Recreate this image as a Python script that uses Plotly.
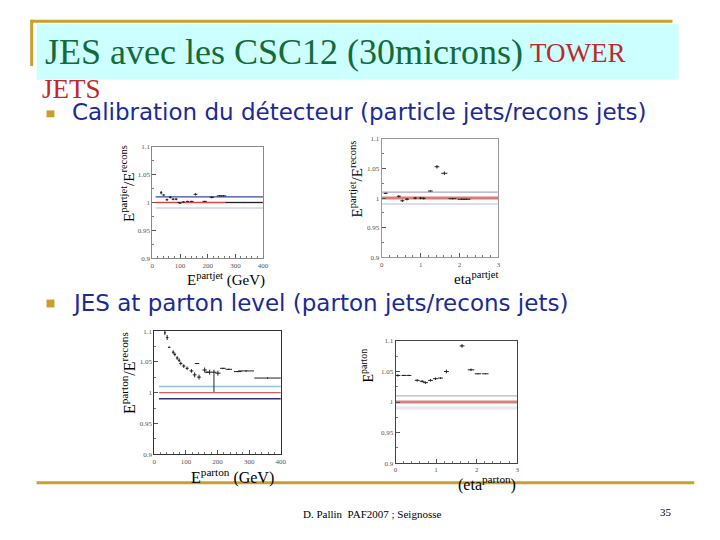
import plotly.graph_objects as go

W, H = 720, 540

# ---------------- data ----------------
# Plot 1: particle jets / recons jets vs E (GeV)
e1 = [32, 41, 53, 65, 75, 86, 95, 100, 112, 127, 142, 156, 189, 215, 243, 257, 331]
r1 = [1.0176, 1.0135, 1.005, 1.0094, 1.006, 1.006, 1.0, 0.999, 1.001, 1.002, 1.002, 1.0147, 1.002, 1.0094, 1.012, 1.012, 1.0]
e1err = [4, 5, 5, 5, 5, 5, 5, 5, 6, 6, 7, 7, 8, 8, 10, 10, 67]
r1err = [0.003, 0.001, 0.002, 0.002, 0.002, 0.002, 0.001, 0.001, 0.001, 0.001, 0.001, 0.002, 0.001, 0.002, 0.001, 0.001, 0.001]

# Plot 2: particle jets / recons jets vs eta
eta2 = [0.1, 0.44, 0.53, 0.65, 0.86, 1.0, 1.08, 1.25, 1.42, 1.61, 1.82, 2.05, 2.18]
r2 = [1.008, 1.003, 0.9955, 0.998, 1.0, 1.0, 0.9995, 1.012, 1.053, 1.042, 0.999, 0.998, 0.998]
eta2err = [0.05, 0.05, 0.05, 0.05, 0.05, 0.05, 0.05, 0.06, 0.06, 0.08, 0.1, 0.1, 0.1]
r2err = [0.001, 0.002, 0.002, 0.002, 0.002, 0.002, 0.002, 0.0005, 0.003, 0.003, 0.001, 0.001, 0.001]

# Plot 3: parton jets / recons jets vs E (GeV)
e3 = [33.5, 40.8, 47.1, 59.7, 64.9, 72.3, 78.5, 83.8, 93.2, 103.7, 117.3, 135.1, 127.7, 141.4, 159.2, 166.5, 174.9, 188.5, 201, 216.8, 235.6, 263.9, 290, 358]
r3 = [1.0974, 1.0895, 1.0737, 1.0658, 1.0621, 1.0563, 1.0526, 1.0474, 1.0432, 1.0395, 1.0353, 1.0474, 1.0289, 1.0253, 1.0368, 1.0332, 1.0332, 1.0332, 1.0316, 1.0395, 1.0379, 1.0342, 1.0353, 1.0237]
e3err = [3, 4, 4, 4, 4, 4, 4, 5, 5, 5, 6, 7, 6, 6, 7, 7, 7, 8, 8, 9, 10, 12, 25, 42]
r3up = [0.004, 0.004, 0.001, 0.003, 0.003, 0.003, 0.003, 0.003, 0.003, 0.003, 0.003, 0.0005, 0.004, 0.004, 0.004, 0.001, 0.004, 0.004, 0.004, 0.001, 0.001, 0.001, 0.001, 0.001]
r3dn = [0.004, 0.004, 0.001, 0.003, 0.003, 0.003, 0.003, 0.003, 0.003, 0.003, 0.003, 0.0005, 0.004, 0.004, 0.004, 0.001, 0.004, 0.032, 0.004, 0.001, 0.001, 0.001, 0.001, 0.001]

# Plot 4: parton jets / recons jets vs eta
eta4 = [0.057, 0.205, 0.328, 0.533, 0.656, 0.738, 0.861, 0.984, 1.107, 1.254, 1.639, 1.861, 2.033, 2.213]
r4 = [1.0435, 1.0435, 1.0435, 1.0355, 1.0339, 1.0317, 1.0355, 1.0382, 1.0392, 1.05, 1.0919, 1.0527, 1.0462, 1.0462]
eta4err = [0.06, 0.06, 0.06, 0.06, 0.06, 0.06, 0.06, 0.06, 0.06, 0.06, 0.06, 0.08, 0.08, 0.08]
r4err = [0.002, 0.001, 0.001, 0.002, 0.002, 0.002, 0.002, 0.002, 0.001, 0.003, 0.003, 0.002, 0.0005, 0.0005]

# reference lines (y levels)
ref_levels = [1.01, 1.0, 0.99]
ref_e1 = [12, 400]
ref_eta = [0, 3]
ref_e3 = [15, 400]

yticks = [0.9, 0.95, 1.0, 1.05, 1.1]
ytick_text = ["0.9", "0.95", "1", "1.05", "1.1"]
xticks_e = [0, 100, 200, 300, 400]
xticks_eta = [0, 1, 2, 3]

# ---------------- figure ----------------
fig = go.Figure()

def px_x(a):
    return a / W

def px_y(b):
    return 1 - b / H

panels = [
    ("x", "y", (152, 264, 145, 258), [0, 400], xticks_e, 20),
    ("x2", "y2", (384, 502, 137, 257), [0, 3], xticks_eta, 0.2),
    ("x3", "y3", (154, 282, 332, 457), [0, 400], xticks_e, 20),
    ("x4", "y4", (398, 521, 342, 466), [0, 3], xticks_eta, 0.2),
]

frame_col = ["#888888", "#999999", "#333333", "#444444"]
for i, (xa, ya, (x0, x1, y0, y1), xr, xt, mdt) in enumerate(panels):
    k = "" if i == 0 else str(i + 1)
    fig.layout["xaxis" + k] = dict(
        domain=[px_x(x0), px_x(x1)], range=xr, anchor=ya, tickvals=xt,
        ticks="inside", ticklen=4, tickcolor="#555", showgrid=False, zeroline=False,
        showline=True, linecolor=frame_col[i], linewidth=1, mirror=True,
        tickfont=dict(family="Liberation Serif", size=7, color="#555"),
        minor=dict(ticks="inside", ticklen=2, dtick=mdt, tickcolor="#777"),
    )
    fig.layout["yaxis" + k] = dict(
        domain=[px_y(y1), px_y(y0)], range=[0.9, 1.1], anchor=xa,
        tickvals=yticks, ticktext=ytick_text,
        ticks="inside", ticklen=4, tickcolor="#555", showgrid=False, zeroline=False,
        showline=True, linecolor=frame_col[i], linewidth=1, mirror=True,
        tickfont=dict(family="Liberation Serif", size=7, color="#555"),
        minor=dict(ticks="inside", ticklen=2, dtick=0.025, tickcolor="#777"),
    )

def refline(xs, level, color, width, xa, ya):
    fig.add_trace(go.Scatter(x=xs, y=[level, level], mode="lines",
                             line=dict(color=color, width=width),
                             xaxis=xa, yaxis=ya, hoverinfo="skip"))

refline(ref_e1, ref_levels[0], "#3848a0", 1.3, "x", "y")
refline(ref_e1, ref_levels[1], "#d84848", 1.3, "x", "y")
refline(ref_e1, ref_levels[2], "#d0d0ec", 1.5, "x", "y")
refline(ref_eta, ref_levels[0], "#a8a8cc", 1.3, "x2", "y2")
refline(ref_eta, ref_levels[1], "#e07878", 3, "x2", "y2")
refline(ref_eta, ref_levels[2], "#dcdcf2", 2, "x2", "y2")
refline(ref_e3, ref_levels[0], "#90c4d4", 1.3, "x3", "y3")
refline(ref_e3, ref_levels[1], "#d06060", 1.3, "x3", "y3")
refline(ref_e3, ref_levels[2], "#30307a", 1.5, "x3", "y3")
refline(ref_eta, ref_levels[0], "#b8b8d4", 1.3, "x4", "y4")
refline(ref_eta, ref_levels[1], "#d88080", 3, "x4", "y4")
refline(ref_eta, ref_levels[2], "#e6e6f4", 3, "x4", "y4")

def points(xs, ys, xe, ye_up, ye_dn, xa, ya):
    fig.add_trace(go.Scatter(
        x=xs, y=ys, mode="markers", marker=dict(size=1, color="#222"),
        error_x=dict(type="data", array=xe, width=0, thickness=1, color="#222"),
        error_y=dict(type="data", array=ye_up, arrayminus=ye_dn, symmetric=False,
                     width=0, thickness=1, color="#222"),
        xaxis=xa, yaxis=ya, hoverinfo="skip"))

points(e1, r1, e1err, r1err, r1err, "x", "y")
points(eta2, r2, eta2err, r2err, r2err, "x2", "y2")
points(e3, r3, e3err, r3up, r3dn, "x3", "y3")
points(eta4, r4, eta4err, r4err, r4err, "x4", "y4")

# ---------------- slide decorations ----------------
gold = "#c9a02c"
shapes = [
    dict(type="rect", xref="paper", yref="paper", x0=px_x(35), x1=px_x(684), y0=px_y(77), y1=px_y(20),
         fillcolor="#ccffff", line=dict(width=0), layer="below"),
    dict(type="line", xref="paper", yref="paper", x0=px_x(29), x1=px_x(678), y0=px_y(17.5), y1=px_y(17.5),
         line=dict(color=gold, width=3)),
    dict(type="line", xref="paper", yref="paper", x0=px_x(30), x1=px_x(30), y0=px_y(16), y1=px_y(63),
         line=dict(color=gold, width=3)),
    dict(type="line", xref="paper", yref="paper", x0=px_x(35), x1=px_x(700), y0=px_y(486), y1=px_y(486),
         line=dict(color=gold, width=3)),
    dict(type="rect", xref="paper", yref="paper", x0=px_x(45), x1=px_x(53), y0=px_y(115), y1=px_y(108),
         fillcolor=gold, line=dict(width=0)),
    dict(type="rect", xref="paper", yref="paper", x0=px_x(45), x1=px_x(53), y0=px_y(308), y1=px_y(300),
         fillcolor=gold, line=dict(width=0)),
]

def ann(text, x, y, size, color="#000", family="Liberation Serif", xanchor="left", yanchor="middle", angle=0):
    return dict(text=text, x=px_x(x), y=px_y(y), xref="paper", yref="paper", showarrow=False,
                xanchor=xanchor, yanchor=yanchor, textangle=angle,
                font=dict(size=size, color=color, family=family))

annotations = [
    ann("JES avec les CSC12 (30microns)", 41, 49, 36, "#146b3a"),
    ann("TOWER", 532, 50, 27, "#c0282a"),
    ann("JETS", 38, 86, 27, "#c0282a"),
    ann("Calibration du détecteur (particle jets/recons jets)", 69, 110, 23, "#1a2a96", "DejaVu Sans"),
    ann("JES at parton level (parton jets/recons jets)", 69, 303, 23, "#1a2a96", "DejaVu Sans"),
    # axis titles
    ann("E<sup>partjet</sup>/E<sup>recons</sup>", 127, 182, 15, angle=-90, xanchor="center"),
    ann("E<sup>partjet</sup> (GeV)", 227, 280, 15, xanchor="center"),
    ann("E<sup>partjet</sup>/E<sup>recons</sup>", 358, 178, 15, angle=-90, xanchor="center"),
    ann("eta<sup>partjet</sup>", 479, 278, 15, xanchor="center"),
    ann("E<sup>parton</sup>/E<sup>recons</sup>", 128, 375, 16, angle=-90, xanchor="center"),
    ann("E<sup>parton</sup> (GeV)", 233, 480, 16, xanchor="center"),
    ann("E<sup>parton</sup>", 369, 367, 14, angle=-90, xanchor="center"),
    ann("(eta<sup>parton</sup>)", 490, 487, 16, xanchor="center"),
    # footer
    ann("D. Pallin  PAF2007 ; Seignosse", 374, 518, 11, xanchor="center"),
    ann("35", 671, 516, 11, xanchor="center"),
]

fig.update_layout(
    width=W, height=H, margin=dict(l=0, r=0, t=0, b=0),
    paper_bgcolor="white", plot_bgcolor="rgba(0,0,0,0)",
    showlegend=False, shapes=shapes, annotations=annotations,
)

fig.write_html("out.html", config={"displayModeBar": False},
               post_script="document.body.style.margin='0px';")
